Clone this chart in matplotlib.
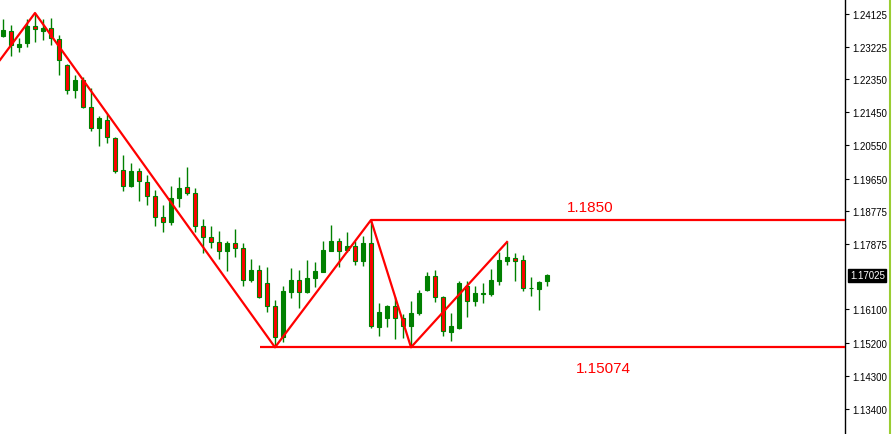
import numpy as np
import matplotlib
matplotlib.use("Agg")
import matplotlib.pyplot as plt
from matplotlib.patches import Rectangle
from matplotlib.lines import Line2D

# daily candles
opens = [1.23520, 1.23656, 1.23222, 1.23330, 1.23791, 1.23656, 1.23737, 1.23439, 1.22733, 1.22055,
         1.22326, 1.21594, 1.21024, 1.21241, 1.20753, 1.19885, 1.19451, 1.19858, 1.19559, 1.19179,
         1.18610, 1.18474, 1.19125, 1.19424, 1.19261, 1.18365, 1.18067, 1.17931, 1.17687, 1.17904,
         1.17769, 1.16900, 1.17172, 1.16819, 1.16195, 1.15354, 1.16575, 1.16900, 1.16575, 1.16955,
         1.17118, 1.17687, 1.17959, 1.17714, 1.17823, 1.17416, 1.17904, 1.15625, 1.15870, 1.16195,
         1.15870, 1.15652, 1.16005, 1.16629, 1.17009, 1.16439, 1.15490, 1.15598, 1.16738, 1.16331,
         1.16521, 1.16521, 1.16873, 1.17416, 1.17497, 1.17443, 1.16683, 1.16656, 1.16873]
highs = [1.23981, 1.23819, 1.23466, 1.23981, 1.24144, 1.23981, 1.24009, 1.23547, 1.22761, 1.22462,
         1.22408, 1.22109, 1.21350, 1.21404, 1.20780, 1.20292, 1.20075, 1.19939, 1.19749, 1.19342,
         1.18935, 1.19451, 1.19695, 1.19966, 1.19396, 1.18555, 1.18365, 1.18230, 1.17959, 1.18284,
         1.17904, 1.17470, 1.17307, 1.17253, 1.16358, 1.16738, 1.17226, 1.17172, 1.17443, 1.17389,
         1.17959, 1.18393, 1.18040, 1.18203, 1.17959, 1.18094, 1.18528, 1.16276, 1.16222, 1.16439,
         1.15978, 1.16331, 1.16629, 1.17118, 1.17172, 1.16466, 1.16005, 1.16873, 1.16873, 1.16738,
         1.16819, 1.17199, 1.17660, 1.17931, 1.17633, 1.17579, 1.16982, 1.16873, 1.17063]
lows = [1.23493, 1.22978, 1.23086, 1.23222, 1.23357, 1.23412, 1.23276, 1.22462, 1.21947, 1.21838,
        1.21567, 1.20943, 1.20536, 1.20617, 1.19803, 1.19315, 1.19424, 1.19044, 1.18935, 1.18365,
        1.18203, 1.18393, 1.18881, 1.19207, 1.18203, 1.17633, 1.17769, 1.17470, 1.17145, 1.17524,
        1.16738, 1.16846, 1.16412, 1.16032, 1.15074, 1.15218, 1.16412, 1.16141, 1.16548, 1.16711,
        1.17118, 1.17687, 1.17253, 1.17660, 1.17307, 1.17280, 1.15598, 1.15381, 1.15625, 1.15300,
        1.15327, 1.15074, 1.15951, 1.16602, 1.16304, 1.15381, 1.15246, 1.15571, 1.15897, 1.16195,
        1.16276, 1.16466, 1.16765, 1.17307, 1.16873, 1.16602, 1.16466, 1.16087, 1.16738]
closes = [1.23683, 1.23276, 1.23303, 1.23791, 1.23710, 1.23737, 1.23466, 1.22869, 1.22055, 1.22326,
          1.21594, 1.21024, 1.21296, 1.20780, 1.19858, 1.19451, 1.19858, 1.19586, 1.19179, 1.18610,
          1.18474, 1.19125, 1.19396, 1.19261, 1.18365, 1.18067, 1.17931, 1.17687, 1.17904, 1.17769,
          1.16900, 1.17172, 1.16439, 1.16195, 1.15354, 1.16602, 1.16900, 1.16575, 1.16955, 1.17145,
          1.17714, 1.17959, 1.17687, 1.17823, 1.17416, 1.17904, 1.15652, 1.16032, 1.16195, 1.15870,
          1.15652, 1.16005, 1.16548, 1.17009, 1.16439, 1.15517, 1.15652, 1.16819, 1.16331, 1.16548,
          1.16548, 1.16900, 1.17443, 1.17524, 1.17416, 1.16683, 1.16683, 1.16846, 1.17025]

# zigzag swing points (bar index, price)
zz_x = [-0.375, 4, 34, 46, 51, 63]
zz_y = [1.22869, 1.24144, 1.15074, 1.18528, 1.15074, 1.17931]

resistance = 1.18528
support = 1.15074
res_start = 46
sup_start = 32.1

tick_vals = [1.24125, 1.23225, 1.22350, 1.21450, 1.20550, 1.19650, 1.18775,
             1.17875, 1.16100, 1.15200, 1.14300, 1.13400]
tick_labels = ["1.24125", "1.23225", "1.22350", "1.21450", "1.20550", "1.19650", "1.18775",
               "1.17875", "1.16100", "1.15200", "1.14300", "1.13400"]
last_price = 1.17025

GREEN = "#008000"
RED = "#ff0000"

plt.rcParams["font.family"] = ["Liberation Sans", "DejaVu Sans"]

fig = plt.figure(figsize=(8.93, 4.35), dpi=100)
ax = fig.add_axes([0, 0, 845 / 893, 1])

# candles
w = 0.6
for i, (o, h, l, c) in enumerate(zip(opens, highs, lows, closes)):
    ax.vlines(i, l, h, color=GREEN, lw=1.0, zorder=2)
    face = GREEN if c >= o else RED
    ax.add_patch(Rectangle((i - w / 2, min(o, c)), w, max(abs(c - o), 1e-6),
                           facecolor=face, edgecolor=GREEN, lw=0.8, zorder=3))

# zigzag and levels
ax.plot(zz_x, zz_y, color=RED, lw=1.6, zorder=4)
ax.hlines(resistance, res_start, 200, color=RED, lw=1.6, zorder=4)
ax.hlines(support, sup_start, 200, color=RED, lw=1.6, zorder=4)
ax.text(73.4, 1.18881, "1.1850", color=RED, fontsize=11, ha="center", va="center")
ax.text(75.1, 1.14513, "1.15074", color=RED, fontsize=11, ha="center", va="center")

ax.set_xlim(-0.375, 105.25)
ax.set_ylim(1.12722, 1.24524)

for s in ["left", "top", "bottom"]:
    ax.spines[s].set_visible(False)
ax.spines["right"].set_color("black")
ax.spines["right"].set_linewidth(1.0)
ax.set_xticks([])
ax.yaxis.tick_right()
ax.set_yticks(tick_vals)
ax.set_yticklabels(tick_labels)
ax.tick_params(axis="y", direction="out", length=3, width=0.8, pad=2,
               labelsize=7, colors="black")

# current price marker
ax.annotate(f"{last_price:.5f}", xy=(1, last_price), xycoords=("axes fraction", "data"),
            xytext=(3.5, 0), textcoords="offset points", ha="left", va="center",
            fontsize=7, color="white",
            bbox=dict(boxstyle="square,pad=0.15", facecolor="black", edgecolor="black"))

fig.add_artist(Line2D([890 / 893, 890 / 893], [0, 1], color="#9acd32", lw=1.5))

fig.savefig("out.png", dpi=100)
